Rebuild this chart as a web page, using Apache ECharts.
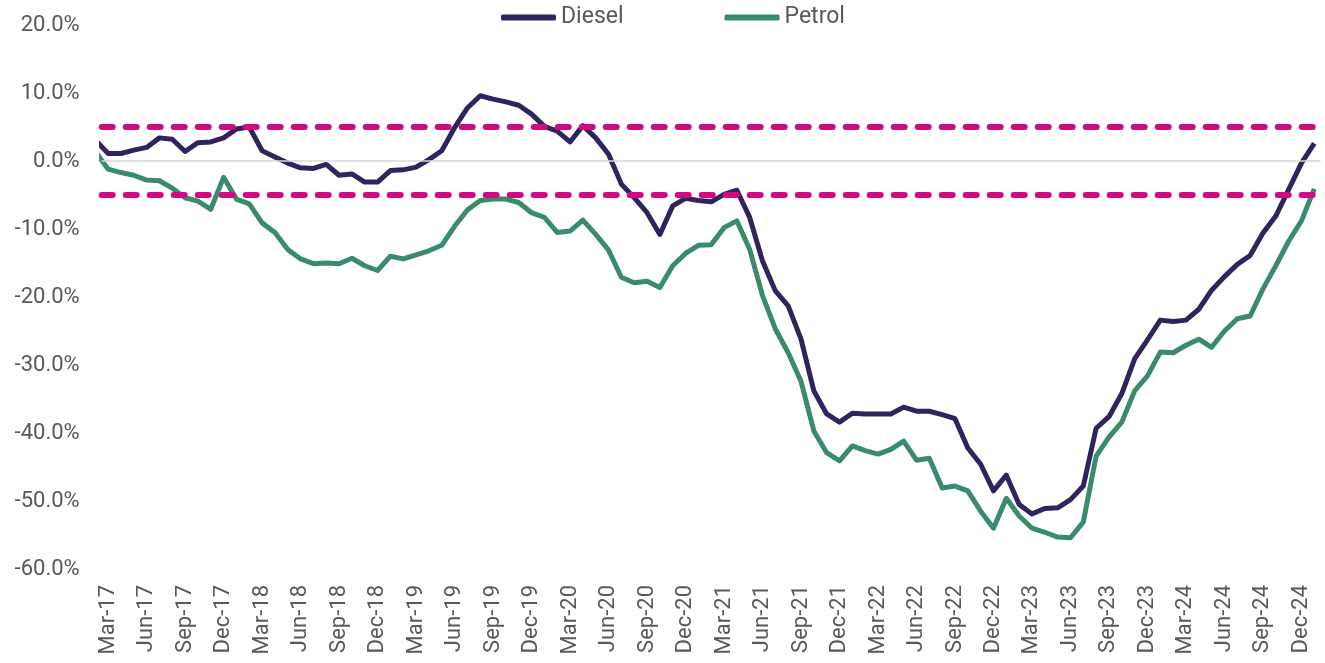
<!DOCTYPE html>
<html>
<head>
<meta charset="utf-8">
<script src="https://cdn.jsdelivr.net/npm/echarts@6/dist/echarts.min.js"></script>
<style>
  html, body { margin: 0; padding: 0; background: #fff; }
  #chart { width: 1325px; height: 663px; }
</style>
</head>
<body>
<div id="chart"></div>
<script>
// monthly, Feb-17 .. Jan-25 (Feb-17 sits just outside the plot, only its stub shows)
const months = [
  'Feb-17', 'Mar-17', 'Apr-17', 'May-17', 'Jun-17', 'Jul-17', 'Aug-17', 'Sep-17', 'Oct-17', 'Nov-17', 'Dec-17',
  'Jan-18', 'Feb-18', 'Mar-18', 'Apr-18', 'May-18', 'Jun-18', 'Jul-18', 'Aug-18', 'Sep-18', 'Oct-18', 'Nov-18', 'Dec-18',
  'Jan-19', 'Feb-19', 'Mar-19', 'Apr-19', 'May-19', 'Jun-19', 'Jul-19', 'Aug-19', 'Sep-19', 'Oct-19', 'Nov-19', 'Dec-19',
  'Jan-20', 'Feb-20', 'Mar-20', 'Apr-20', 'May-20', 'Jun-20', 'Jul-20', 'Aug-20', 'Sep-20', 'Oct-20', 'Nov-20', 'Dec-20',
  'Jan-21', 'Feb-21', 'Mar-21', 'Apr-21', 'May-21', 'Jun-21', 'Jul-21', 'Aug-21', 'Sep-21', 'Oct-21', 'Nov-21', 'Dec-21',
  'Jan-22', 'Feb-22', 'Mar-22', 'Apr-22', 'May-22', 'Jun-22', 'Jul-22', 'Aug-22', 'Sep-22', 'Oct-22', 'Nov-22', 'Dec-22',
  'Jan-23', 'Feb-23', 'Mar-23', 'Apr-23', 'May-23', 'Jun-23', 'Jul-23', 'Aug-23', 'Sep-23', 'Oct-23', 'Nov-23', 'Dec-23',
  'Jan-24', 'Feb-24', 'Mar-24', 'Apr-24', 'May-24', 'Jun-24', 'Jul-24', 'Aug-24', 'Sep-24', 'Oct-24', 'Nov-24', 'Dec-24',
  'Jan-25'
];

const diesel = [
  3.1,
  1.1, 1.1, 1.6, 2.0, 3.4, 3.2, 1.4, 2.7, 2.8, 3.4,
  4.7, 5.0, 1.5, 0.6, -0.3, -1.0, -1.1, -0.5, -2.1, -1.9,
  -3.1, -3.1, -1.4, -1.3, -0.9, 0.2, 1.5, 4.9, 7.8, 9.6,
  9.1, 8.7, 8.2, 6.9, 5.1, 4.4, 2.8, 5.2, 3.4, 1.0,
  -3.4, -5.4, -7.6, -10.8, -6.6, -5.5, -5.8, -6.0, -4.9, -4.3,
  -8.3, -14.7, -19.1, -21.3, -26.2, -33.8, -37.2, -38.4, -37.1, -37.2,
  -37.2, -37.2, -36.2, -36.8, -36.8, -37.3, -37.9, -42.2, -44.6, -48.5,
  -46.2, -50.5, -51.9, -51.1, -51.0, -49.8, -47.8, -39.3, -37.6, -34.2,
  -29.1, -26.3, -23.4, -23.6, -23.4, -21.8, -19.0, -17.0, -15.2, -13.9,
  -10.6, -8.1, -4.2, -0.3, 2.6
];

const petrol = [
  1.4,
  -1.2, -1.7, -2.1, -2.8, -2.9, -4.0, -5.4, -5.9, -7.1, -2.4,
  -5.6, -6.3, -9.1, -10.5, -13.0, -14.4, -15.1, -15.0, -15.1, -14.3,
  -15.4, -16.1, -14.0, -14.4, -13.8, -13.2, -12.4, -9.6, -7.2, -5.8,
  -5.6, -5.6, -6.1, -7.6, -8.3, -10.5, -10.3, -8.7, -10.8, -13.1,
  -17.1, -17.9, -17.7, -18.6, -15.4, -13.6, -12.4, -12.3, -9.8, -8.8,
  -13.0, -19.8, -24.7, -28.2, -32.4, -39.7, -42.9, -44.1, -41.9, -42.6,
  -43.1, -42.4, -41.2, -44.0, -43.7, -48.1, -47.8, -48.5, -51.5, -54.0,
  -49.6, -52.2, -54.0, -54.6, -55.3, -55.4, -53.1, -43.4, -40.6, -38.4,
  -33.8, -31.6, -28.1, -28.2, -27.1, -26.2, -27.4, -25.0, -23.2, -22.8,
  -18.8, -15.4, -11.8, -8.8, -4.1
];

// band limits and tick positions (every quarter, from Mar-17)
const bandLines = [5, -5];
const labelIdx = [];
for (let i = 1; i < months.length - 1; i += 3) labelIdx.push(i);

const textColor = '#595959';
const font = 'Roboto, "Noto Sans", sans-serif';

const chart = echarts.init(document.getElementById('chart'));

const option = {
  animation: false,
  textStyle: { fontFamily: font },
  legend: {
    data: ['Diesel', 'Petrol'],
    left: 496,
    top: 1,
    icon: 'roundRect',
    itemWidth: 55,
    itemHeight: 6,
    itemGap: 101,
    textStyle: { fontSize: 23, color: textColor, fontFamily: font }
  },
  grid: {
    left: 101.7,
    right: 4.3,
    top: 25,
    bottom: 94,
    containLabel: false,
    outerBoundsMode: 'none'
  },
  xAxis: {
    type: 'value',
    min: 0.5,
    max: months.length - 0.5,
    axisLine: { show: false },
    axisTick: { show: false },
    splitLine: { show: false },
    axisLabel: {
      customValues: labelIdx,
      rotate: 90,
      margin: 16,
      fontSize: 22,
      color: textColor,
      fontFamily: font,
      formatter: v => months[Math.round(v)]
    }
  },
  yAxis: {
    type: 'value',
    min: -60,
    max: 20,
    interval: 10,
    axisLine: { show: false },
    axisTick: { show: false },
    splitLine: { show: false },
    axisLabel: {
      margin: 22,
      fontSize: 22,
      color: textColor,
      fontFamily: font,
      formatter: v => v.toFixed(1) + '%'
    }
  },
  series: [
    {
      name: 'zero',
      type: 'line',
      data: [],
      z: 1,
      markLine: {
        silent: true,
        symbol: 'none',
        label: { show: false },
        lineStyle: { color: '#d9d9d9', width: 1.5, type: 'solid' },
        data: [{ yAxis: 0 }]
      }
    },
    {
      name: 'Diesel',
      type: 'line',
      z: 2,
      showSymbol: false,
      symbol: 'none',
      itemStyle: { color: '#31245e' },
      lineStyle: { color: '#31245e', width: 5, join: 'round' },
      data: diesel.map((v, i) => [i, v])
    },
    {
      name: 'Petrol',
      type: 'line',
      z: 2,
      showSymbol: false,
      symbol: 'none',
      itemStyle: { color: '#3a8b69' },
      lineStyle: { color: '#3a8b69', width: 5, join: 'round' },
      data: petrol.map((v, i) => [i, v])
    },
    {
      name: 'band',
      type: 'line',
      data: [],
      z: 3,
      markLine: {
        silent: true,
        symbol: 'none',
        label: { show: false },
        lineStyle: { color: '#cf0a82', width: 6, type: [11, 13], cap: 'round' },
        data: bandLines.map(v => ({ yAxis: v }))
      }
    }
  ]
};

chart.setOption(option);
</script>
</body>
</html>
